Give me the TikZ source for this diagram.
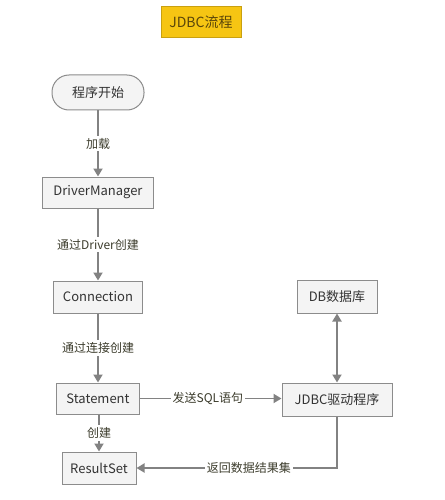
\documentclass[tikz,border=0pt]{standalone}
\usepackage{fontspec}
\setmainfont{Noto Sans CJK SC}
\usetikzlibrary{arrows.meta,positioning}
\definecolor{boxfill}{HTML}{F4F4F4}
\definecolor{boxline}{HTML}{8C8C8C}
\definecolor{linecol}{HTML}{828282}
\definecolor{txt}{HTML}{333333}
\definecolor{lbl}{HTML}{3C3C2C}
\definecolor{gold}{HTML}{F6C513}
\definecolor{goldline}{HTML}{C9A010}
\tikzset{
  box/.style={draw=boxline, fill=boxfill, line width=1pt, inner sep=0pt, text=txt, font=\fontsize{13}{15}\selectfont},
  pill/.style={box, rounded corners=17pt},
  conn/.style={draw=linecol, line width=1.8pt, -{Triangle[length=8pt,width=9pt]}},
  biconn/.style={draw=linecol, line width=1.8pt, {Triangle[length=8pt,width=9pt]}-{Triangle[length=8pt,width=9pt]}},
  plain/.style={draw=linecol, line width=1.8pt},
  lab/.style={fill=white, text=lbl, inner sep=2pt, font=\fontsize{12}{14}\selectfont},
  titlebox/.style={draw=goldline, fill=gold, line width=1pt, text={rgb,255:red,90;green,70;blue,10}, inner sep=0pt, font=\fontsize{14}{16}\selectfont}
}
\begin{document}
\begin{tikzpicture}[x=1pt,y=-1pt]
\useasboundingbox (0,0) rectangle (444,500);
\node[titlebox, minimum width=80pt, minimum height=31pt] (title) at (201,22.5) {JDBC流程};
\node[pill, minimum width=92pt, minimum height=35pt] (start) at (98,92.5) {程序开始};
\node[box, minimum width=111pt, minimum height=31pt] (dm) at (98,192.5) {DriverManager};
\node[box, minimum width=89pt, minimum height=32pt] (conn) at (98,297) {Connection};
\node[box, minimum width=83pt, minimum height=31pt] (stmt) at (98,398.5) {Statement};
\node[box, minimum width=74pt, minimum height=32pt] (rs) at (99,468) {ResultSet};
\node[box, minimum width=80pt, minimum height=33pt] (db) at (337,296.5) {DB数据库};
\node[box, minimum width=110pt, minimum height=33pt] (jdbc) at (337,399.5) {JDBC驱动程序};
\draw[conn] (start) -- node[lab] {加载} (dm);
\draw[conn] (dm) -- node[lab] {通过Driver创建} (conn);
\draw[conn] (conn) -- node[lab] {通过连接创建} (stmt);
\draw[conn] (stmt.south -| rs.north) -- node[lab] {创建} (rs.north);
\draw[conn] (stmt.east) -- node[lab, pos=0.48] {发送SQL语句} (stmt.east -| jdbc.west);
\draw[biconn] (db) -- (jdbc);
\draw[conn] (jdbc.south) |- node[lab, pos=0.72] {返回数据结果集} (rs.east);
\end{tikzpicture}
\end{document}
